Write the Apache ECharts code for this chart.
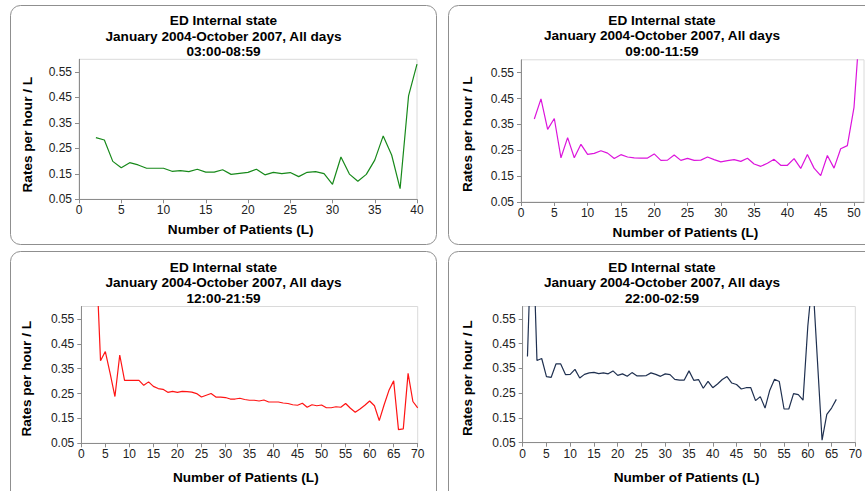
<!DOCTYPE html>
<html>
<head>
<meta charset="utf-8">
<script src="https://cdn.jsdelivr.net/npm/echarts@6/dist/echarts.min.js"></script>
<style>
  html, body { margin: 0; padding: 0; background: #fff; }
  #chart { width: 865px; height: 491px; }
</style>
</head>
<body>
<div id="chart"></div>
<script>
  // ED internal state, rates per hour / L by number of patients, four time windows
  const titleLines = ['ED Internal state', 'January 2004-October 2007, All days'];
  const windows = ['03:00-08:59', '09:00-11:59', '12:00-21:59', '22:00-02:59'];
  const yTicks = [0.05, 0.15, 0.25, 0.35, 0.45, 0.55];
  const xTicks40 = [0, 5, 10, 15, 20, 25, 30, 35, 40];
  const xTicks50 = [0, 5, 10, 15, 20, 25, 30, 35, 40, 45, 50];
  const xTicks70 = [0, 5, 10, 15, 20, 25, 30, 35, 40, 45, 50, 55, 60, 65, 70];

  // 03:00-08:59
  const patientsA = [2,3,4,5,6,7,8,9,10,11,12,13,14,15,16,17,18,19,20,21,22,23,24,25,26,27,28,29,30,31,32,33,34,35,36,37,38,39,40];
  const ratesA = [0.292,0.283,0.199,0.174,0.194,0.185,0.172,0.172,0.172,0.160,0.163,0.159,0.168,0.157,0.157,0.166,0.148,0.152,0.156,0.168,0.146,0.156,0.151,0.155,0.139,0.156,0.159,0.151,0.109,0.216,0.149,0.121,0.148,0.204,0.299,0.224,0.092,0.456,0.581];

  // 09:00-11:59
  const patientsB = [2,3,4,5,6,7,8,9,10,11,12,13,14,15,16,17,18,19,20,21,22,23,24,25,26,27,28,29,30,31,32,33,34,35,36,37,38,39,40,41,42,43,44,45,46,47,48,49,50,51];
  const ratesB = [0.371,0.449,0.331,0.373,0.221,0.299,0.221,0.273,0.234,0.238,0.248,0.239,0.218,0.233,0.224,0.221,0.220,0.220,0.236,0.211,0.212,0.232,0.211,0.219,0.211,0.212,0.224,0.214,0.205,0.210,0.214,0.207,0.219,0.197,0.188,0.200,0.215,0.192,0.192,0.218,0.180,0.234,0.181,0.152,0.230,0.181,0.256,0.268,0.416,0.780];

  // 12:00-21:59
  const patientsC = [3,4,5,6,7,8,9,10,11,12,13,14,15,16,17,18,19,20,21,22,23,24,25,26,27,28,29,30,31,32,33,34,35,36,37,38,39,40,41,42,43,44,45,46,47,48,49,50,51,52,53,54,55,56,57,58,59,60,61,62,63,64,65,66,67,68,69,70];
  const ratesC = [0.850,0.382,0.419,0.331,0.238,0.405,0.303,0.303,0.303,0.303,0.283,0.297,0.279,0.270,0.267,0.255,0.259,0.255,0.259,0.258,0.256,0.250,0.236,0.243,0.250,0.236,0.236,0.234,0.228,0.228,0.231,0.226,0.223,0.223,0.220,0.224,0.216,0.216,0.216,0.212,0.210,0.205,0.203,0.211,0.195,0.205,0.201,0.204,0.193,0.193,0.197,0.195,0.210,0.191,0.175,0.188,0.203,0.220,0.201,0.141,0.204,0.262,0.301,0.105,0.108,0.331,0.218,0.192];

  // 22:00-02:59
  const patientsD = [1,2,3,4,5,6,7,8,9,10,11,12,13,14,15,16,17,18,19,20,21,22,23,24,25,26,27,28,29,30,31,32,33,34,35,36,37,38,39,40,41,42,43,44,45,46,47,48,49,50,51,52,53,54,55,56,57,58,59,60,61,62,63,64,65,66];
  const ratesD = [0.398,1.000,0.382,0.390,0.317,0.314,0.368,0.368,0.325,0.326,0.346,0.311,0.326,0.332,0.334,0.329,0.332,0.328,0.340,0.322,0.328,0.318,0.333,0.320,0.320,0.321,0.332,0.326,0.318,0.328,0.325,0.306,0.303,0.303,0.340,0.302,0.305,0.270,0.298,0.272,0.287,0.305,0.317,0.291,0.285,0.267,0.272,0.272,0.220,0.236,0.190,0.262,0.306,0.297,0.186,0.186,0.248,0.244,0.222,0.520,0.720,0.390,0.060,0.164,0.190,0.225];

  const font = '"Liberation Sans", Arial, sans-serif';
  const boldFont = 'bold 13.6px ' + font;

  const panels = [
    { grid: { left: 79, top: 59.3, width: 338, height: 140 }, xMax: 40, xTicks: xTicks40, x: patientsA, y: ratesA, color: '#17891a',
      title: { cx: 223.5, ys: [20.7, 36, 51.7] }, xName: { cx: 240.7, cy: 229 }, yName: { cx: 27.7, cy: 134.7 } },
    { grid: { left: 521, top: 59.8, width: 343, height: 142.2 }, xMax: 51.5, xTicks: xTicks50, x: patientsB, y: ratesB, color: '#dc14dc',
      title: { cx: 662, ys: [20.7, 35.5, 51.7] }, xName: { cx: 685.5, cy: 232 }, yName: { cx: 467.3, cy: 134.3 } },
    { grid: { left: 81.3, top: 306.5, width: 336.4, height: 136.8 }, xMax: 70, xTicks: xTicks70, x: patientsC, y: ratesC, color: '#ff1414',
      title: { cx: 223.5, ys: [267.7, 282.5, 298.3] }, xName: { cx: 245.8, cy: 477 }, yName: { cx: 26.7, cy: 378.8 } },
    { grid: { left: 522.7, top: 306.5, width: 336, height: 136.2 }, xMax: 70, xTicks: xTicks70, x: patientsD, y: ratesD, color: '#1f3050',
      title: { cx: 662, ys: [267.7, 282.5, 298.3] }, xName: { cx: 686.6, cy: 477 }, yName: { cx: 467.3, cy: 378.3 } }
  ];

  const boxes = [
    { x: 10.5, y: 5.5, w: 426, h: 239 },
    { x: 448.5, y: 5.5, w: 440, h: 239 },
    { x: 10.5, y: 251.5, w: 426, h: 262 },
    { x: 448.5, y: 251.5, w: 440, h: 262 }
  ];

  const axisLineStyle = { color: '#8c8c8c', width: 1 };

  const grids = [], xAxes = [], yAxes = [], series = [], graphics = [];

  boxes.forEach(b => {
    graphics.push({
      type: 'rect', z: -10, silent: true,
      shape: { x: b.x, y: b.y, width: b.w, height: b.h, r: 10 },
      style: { fill: '#fff', stroke: '#8f8f8f', lineWidth: 1 }
    });
  });

  panels.forEach((p, i) => {
    grids.push(Object.assign({ show: true, borderColor: '#dadada', borderWidth: 1, backgroundColor: 'transparent' }, p.grid));
    xAxes.push({
      type: 'value', gridIndex: i, min: 0, max: p.xMax,
      axisLine: { show: true, lineStyle: axisLineStyle },
      axisTick: { show: true, length: 4, lineStyle: axisLineStyle, customValues: p.xTicks },
      axisLabel: { fontFamily: font, fontSize: 12, color: '#222', margin: 5, customValues: p.xTicks },
      splitLine: { show: false }
    });
    yAxes.push({
      type: 'value', gridIndex: i, min: 0.05, max: 0.6,
      axisLine: { show: true, lineStyle: axisLineStyle },
      axisTick: { show: true, length: 4, lineStyle: axisLineStyle, customValues: yTicks },
      axisLabel: { fontFamily: font, fontSize: 12, color: '#222', margin: 7, customValues: yTicks,
        formatter: v => v.toFixed(2) },
      splitLine: { show: false }
    });
    series.push({
      type: 'line', xAxisIndex: i, yAxisIndex: i, showSymbol: false, clip: true,
      lineStyle: { color: p.color, width: 1.2 },
      data: p.x.map((x, k) => [x, p.y[k]])
    });

    const lines = [titleLines[0], titleLines[1], windows[i]];
    lines.forEach((t, k) => {
      graphics.push({
        type: 'text', silent: true,
        style: { text: t, x: p.title.cx, y: p.title.ys[k], align: 'center', verticalAlign: 'middle',
          font: boldFont, fill: '#000' }
      });
    });
    graphics.push({
      type: 'text', silent: true,
      style: { text: 'Number of Patients (L)', x: p.xName.cx, y: p.xName.cy, align: 'center', verticalAlign: 'middle',
        font: boldFont, fill: '#000' }
    });
    graphics.push({
      type: 'text', silent: true, x: p.yName.cx, y: p.yName.cy, rotation: Math.PI / 2,
      style: { text: 'Rates per hour / L', x: 0, y: 0, align: 'center', verticalAlign: 'middle',
        font: boldFont, fill: '#000' }
    });
  });

  const chart = echarts.init(document.getElementById('chart'), null, { renderer: 'svg' });
  chart.setOption({
    animation: false,
    backgroundColor: '#fff',
    grid: grids,
    xAxis: xAxes,
    yAxis: yAxes,
    series: series,
    graphic: graphics
  });
</script>
</body>
</html>
